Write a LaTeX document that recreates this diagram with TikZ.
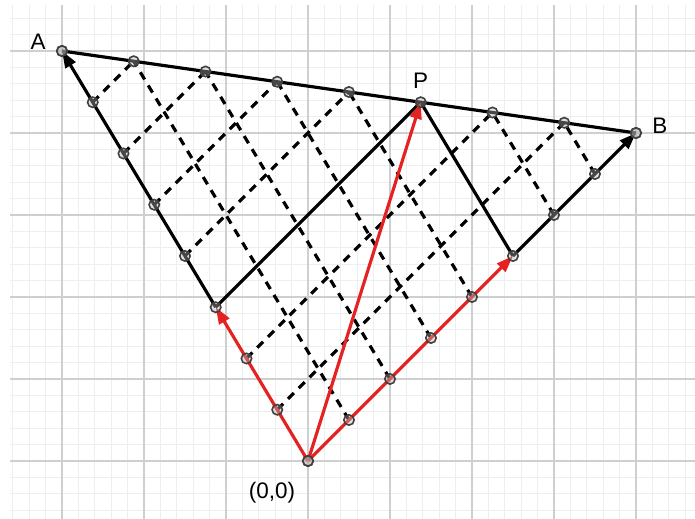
\documentclass[tikz,border=0pt]{standalone}
\usepackage{fontspec}
\setmainfont{Liberation Sans}
\usepackage{tikz}
\usetikzlibrary{arrows.meta, positioning, calc}
\definecolor{vecRed}{HTML}{E52222}
\definecolor{gridMajor}{HTML}{CFCFCF}
\definecolor{gridMinor}{HTML}{EEEEEE}

\begin{document}
\begin{tikzpicture}[
  side/.style={line width=1.1pt, black},
  helper/.style={line width=1.1pt, black, dash pattern=on 2.9pt off 2.4pt},
  vec/.style={line width=1.1pt, vecRed, -{Triangle[length=5.8pt, width=4pt]}},
  blackvec/.style={line width=1.1pt, black, -{Triangle[length=5.8pt, width=4pt]}},
  dot/.style={circle, draw=black!75, line width=0.55pt, fill=gray!60, fill opacity=0.4,
    inner sep=0pt, minimum size=3.6pt},
  lbl/.style={font=\fontsize{7.8}{9}\selectfont, inner sep=0pt}]
  \useasboundingbox (-3.756,-0.707) rectangle (4.720,5.622);
  % grid
  \draw[gridMinor, line width=0.35pt] (-3.634,-0.707) grid[step=0.2] (4.720,5.561);
  \draw[gridMajor, line width=0.7pt] (-3.634,-0.707) grid[step=1] (4.720,5.561);

  \coordinate (O) at (0,0);
  \coordinate (A) at (-3,5);
  \coordinate (B) at (4,4);
  \foreach \i in {0,...,8} {
    \coordinate (a\i) at ($(O)!\i/8!(A)$);
    \coordinate (b\i) at ($(O)!\i/8!(B)$);
    \coordinate (c\i) at ($(A)!\i/8!(B)$);
  }
  \coordinate (P) at (c5);

  % parallels
  \foreach \i [evaluate=\i as \k using int(8-\i)] in {1,2,4,5,6,7}
    \draw[helper] (a\i) -- (c\k);
  \foreach \j in {1,2,3,4,6,7}
    \draw[helper] (b\j) -- (c\j);

  \draw[side] (A) -- (B);
  \draw[side] (a3) -- (P);
  \draw[side] (b5) -- (P);
  \draw[blackvec] (a3) -- (A);
  \draw[blackvec] (b5) -- (B);

  \draw[vec] (O) -- (a3);
  \draw[vec] (O) -- (b5);
  \draw[vec] (O) -- (P);

  % points
  \foreach \i in {0,...,8} {
    \node[dot] (pa\i) at (a\i) {};
    \node[dot] (pb\i) at (b\i) {};
    \node[dot] (pc\i) at (c\i) {};
  }

  \node[lbl] (labA) at ($(A)+(-0.29,0.11)$) {A};
  \node[lbl] (labB) at ($(B)+(0.29,0.085)$) {B};
  \node[lbl] (labP) at ($(P)+(0,0.26)$) {P};
  \node[lbl] (labO) at ($(O)+(-0.44,-0.39)$) {(0,0)};
\end{tikzpicture}
\end{document}
